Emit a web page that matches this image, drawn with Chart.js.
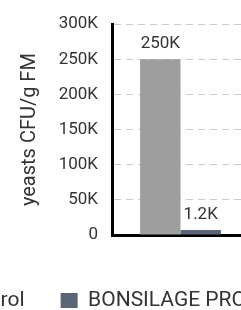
<!DOCTYPE html>
<html>
<head>
<meta charset="utf-8">
<script src="https://cdn.jsdelivr.net/npm/chart.js@4.4.1/dist/chart.umd.min.js"></script>
<style>
  html, body { margin: 0; padding: 0; background: #fff; overflow: hidden; }
  #view { position: relative; width: 241px; height: 310px; overflow: hidden; }
  #wrap { position: absolute; left: -118px; top: 0; }
</style>
</head>
<body>
<div id="view">
  <div id="wrap"><canvas id="chart" width="411" height="321"></canvas></div>
</div>
<script>
// values
const categories = ['Yeasts'];
const seriesNames = ['Control', 'BONSILAGE PRO'];
const controlValues = [250000];
const bonsilageValues = [1200];
const seriesColors = ['#9e9e9e', '#5a6577'];
const yMax = 300000;
const yStep = 50000;
const yTitle = 'yeasts CFU/g FM';

const FONT = 'Roboto';
const TEXT = '#333';

function fmtK(v) {
  if (v === 0) return '0';
  return (v / 1000) + 'K';
}

// value labels on top of each bar
const valueLabels = {
  id: 'valueLabels',
  afterDatasetsDraw(chart) {
    const ctx = chart.ctx;
    ctx.save();
    ctx.font = '17px ' + FONT;
    ctx.fillStyle = TEXT;
    ctx.textAlign = 'center';
    ctx.textBaseline = 'bottom';
    chart.data.datasets.forEach((ds, i) => {
      chart.getDatasetMeta(i).data.forEach((bar, j) => {
        ctx.fillText(fmtK(ds.data[j]), bar.x, bar.y - 7);
      });
    });
    ctx.restore();
  }
};

new Chart(document.getElementById('chart'), {
  type: 'bar',
  data: {
    labels: categories,
    datasets: [
      { label: seriesNames[0], data: controlValues, backgroundColor: seriesColors[0] },
      { label: seriesNames[1], data: bonsilageValues, backgroundColor: seriesColors[1], minBarLength: 5 }
    ]
  },
  options: {
    responsive: false,
    animation: false,
    devicePixelRatio: 1,
    categoryPercentage: 0.59,
    barPercentage: 1,
    layout: { padding: { top: 18, left: 0, right: 0, bottom: 0 } },
    plugins: {
      tooltip: { enabled: false },
      legend: {
        position: 'bottom',
        labels: {
          font: { family: FONT, size: 21 },
          color: TEXT,
          boxWidth: 17,
          boxHeight: 15,
          padding: 36
        }
      }
    },
    scales: {
      x: {
        z: 1,
        grid: { display: false },
        ticks: { display: false },
        border: { color: '#000', width: 3 },
        afterFit: s => { s.height = 19; }
      },
      y: {
        min: 0,
        max: yMax,
        ticks: {
          stepSize: yStep,
          padding: 14,
          color: TEXT,
          font: { family: FONT, size: 17 },
          callback: v => fmtK(v)
        },
        grid: { color: '#cccccc', lineWidth: 1, drawTicks: false },
        border: { color: '#000', width: 3, dash: [7, 5] },
        title: {
          display: true,
          text: yTitle,
          color: TEXT,
          font: { family: FONT, size: 20 },
          padding: { top: 136, bottom: 0 }
        },
        afterFit: s => { s.width = 230; }
      },
      pad: {
        position: 'right',
        display: true,
        grid: { display: false },
        ticks: { display: false },
        border: { display: false },
        afterFit: s => { s.width = 44; }
      }
    }
  },
  plugins: [valueLabels]
});
</script>
</body>
</html>
